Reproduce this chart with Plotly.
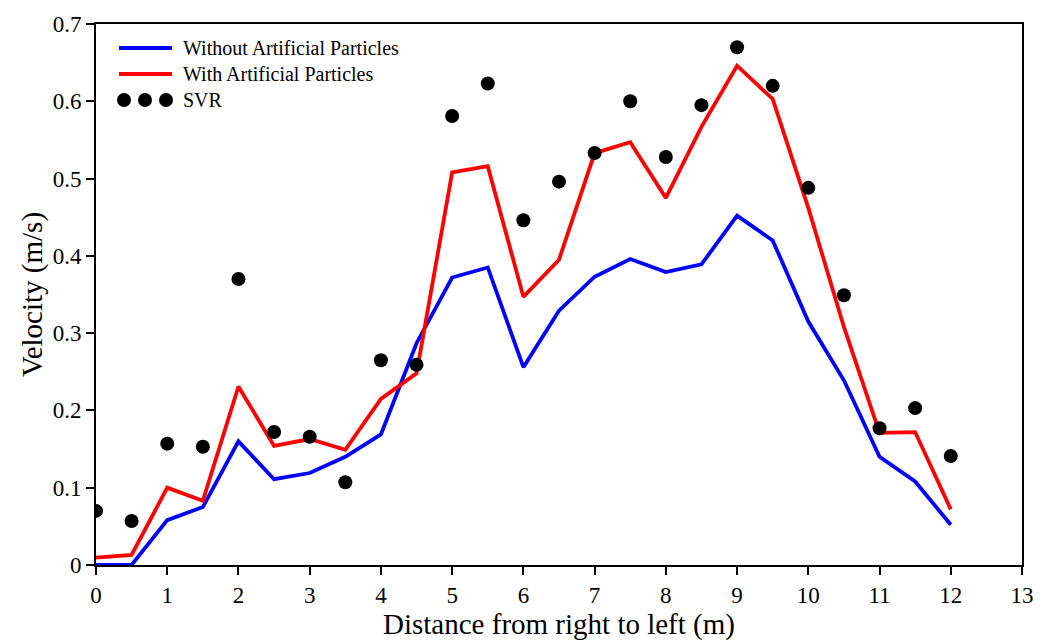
import plotly.graph_objects as go

distance = [0, 0.5, 1, 1.5, 2, 2.5, 3, 3.5, 4, 4.5, 5, 5.5, 6, 6.5, 7, 7.5, 8, 8.5, 9, 9.5, 10, 10.5, 11, 11.5, 12]
without_particles = [0.0, 0.0, 0.058, 0.075, 0.160, 0.111, 0.119, 0.140, 0.169, 0.287, 0.372, 0.385, 0.256, 0.329,
                     0.373, 0.396, 0.379, 0.389, 0.452, 0.420, 0.315, 0.239, 0.140, 0.108, 0.052]
with_particles = [0.0095, 0.013, 0.100, 0.083, 0.231, 0.154, 0.163, 0.149, 0.215, 0.248, 0.508, 0.516, 0.347, 0.395,
                  0.533, 0.547, 0.475, 0.567, 0.646, 0.603, 0.462, 0.308, 0.171, 0.172, 0.072]
svr = [0.070, 0.057, 0.157, 0.153, 0.370, 0.172, 0.166, 0.107, 0.265, 0.259, 0.581, 0.623, 0.446, 0.496,
       0.533, 0.600, 0.528, 0.595, 0.670, 0.620, 0.488, 0.349, 0.177, 0.203, 0.141]
legend_labels = ["Without Artificial Particles", "With Artificial Particles", "SVR"]

FONT = "Liberation Serif"

fig = go.Figure()
fig.add_trace(go.Scatter(x=distance, y=without_particles, mode="lines",
                         line=dict(color="#0000ff", width=3.8), name=legend_labels[0], showlegend=False))
fig.add_trace(go.Scatter(x=distance, y=with_particles, mode="lines",
                         line=dict(color="#ff0000", width=3.8), name=legend_labels[1], showlegend=False))
fig.add_trace(go.Scatter(x=distance, y=svr, mode="markers",
                         marker=dict(color="black", size=14), name=legend_labels[2], showlegend=False))

W, H = 1047, 642
L, R, T, B = 96, 25, 24, 77
pw, ph = W - L - R, H - T - B


def px(x):
    return (x - L) / pw


def py(y):
    return 1 - (y - T) / ph


shapes = [
    dict(type="line", xref="paper", yref="paper", x0=px(119), x1=px(172), y0=py(48), y1=py(48),
         line=dict(color="#0000ff", width=4)),
    dict(type="line", xref="paper", yref="paper", x0=px(119), x1=px(172), y0=py(74), y1=py(74),
         line=dict(color="#ff0000", width=4)),
]
for cx in [124, 145, 166]:
    shapes.append(dict(type="circle", xref="paper", yref="paper", x0=px(cx - 7), x1=px(cx + 7),
                       y0=py(100 + 7), y1=py(100 - 7), fillcolor="black", line=dict(color="black", width=0)))

annotations = []
for label, yy in zip(legend_labels, [48, 74, 100]):
    annotations.append(dict(text=label, xref="paper", yref="paper", x=px(181), y=py(yy), xanchor="left",
                            yanchor="middle", showarrow=False, font=dict(family=FONT, size=20, color="black")))

fig.update_layout(
    width=W, height=H,
    margin=dict(l=L, r=R, t=T, b=B),
    paper_bgcolor="white", plot_bgcolor="white",
    font=dict(family=FONT, color="black"),
    shapes=shapes, annotations=annotations,
    xaxis=dict(range=[0, 13], tickmode="array", tickvals=list(range(14)),
               ticktext=[str(i) for i in range(14)],
               showgrid=False, zeroline=False, showline=True, linecolor="black", linewidth=2, mirror=True,
               ticks="outside", ticklen=8, tickwidth=2, tickcolor="black",
               tickfont=dict(family=FONT, size=23, color="black"),
               title=dict(text="Distance from right to left (m)", font=dict(family=FONT, size=29, color="black"),
                          standoff=0)),
    yaxis=dict(range=[0, 0.7], tickmode="array", tickvals=[0, 0.1, 0.2, 0.3, 0.4, 0.5, 0.6, 0.7],
               ticktext=["0", "0.1", "0.2", "0.3", "0.4", "0.5", "0.6", "0.7"],
               showgrid=False, zeroline=False, showline=True, linecolor="black", linewidth=2, mirror=True,
               ticks="outside", ticklen=8, tickwidth=2, tickcolor="black",
               tickfont=dict(family=FONT, size=23, color="black"),
               title=dict(text="Velocity (m/s)", font=dict(family=FONT, size=29, color="black"), standoff=2)),
)

fig.write_html("out.html")
